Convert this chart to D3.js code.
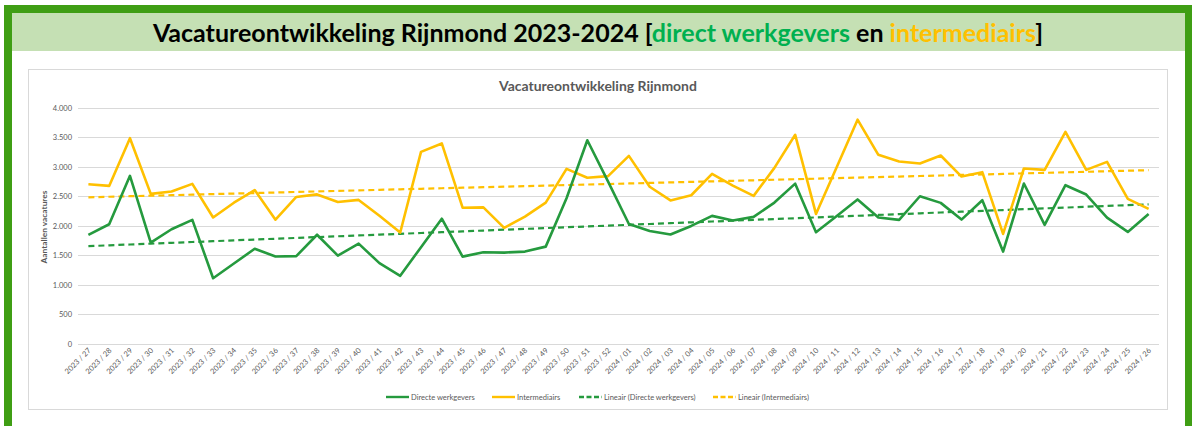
<!DOCTYPE html>
<html>
<head>
<meta charset="utf-8">
<script src="https://cdn.jsdelivr.net/npm/d3@7"></script>
<style>
  body { margin: 0; background: #fff; }
  svg text { font-family: Lato, "Open Sans", sans-serif; }
</style>
</head>
<body>
<div class="AllMap"></div>
<script>
// weken (categorieën)
const weeks = [
  "2023 / 27","2023 / 28","2023 / 29","2023 / 30","2023 / 31","2023 / 32","2023 / 33","2023 / 34",
  "2023 / 35","2023 / 36","2023 / 37","2023 / 38","2023 / 39","2023 / 40","2023 / 41","2023 / 42",
  "2023 / 43","2023 / 44","2023 / 45","2023 / 46","2023 / 47","2023 / 48","2023 / 49","2023 / 50",
  "2023 / 51","2023 / 52","2024 / 01","2024 / 02","2024 / 03","2024 / 04","2024 / 05","2024 / 06",
  "2024 / 07","2024 / 08","2024 / 09","2024 / 10","2024 / 11","2024 / 12","2024 / 13","2024 / 14",
  "2024 / 15","2024 / 16","2024 / 17","2024 / 18","2024 / 19","2024 / 20","2024 / 21","2024 / 22",
  "2024 / 23","2024 / 24","2024 / 25","2024 / 26"
];

// directe werkgevers
const direct = [
  1845, 2025, 2844, 1715, 1941, 2099, 1113, 1362, 1610, 1480, 1486, 1848, 1495, 1698, 1367, 1153,
  1638, 2119, 1478, 1552, 1546, 1563, 1647, 2466, 3446, 2746, 2030, 1910, 1851, 1997, 2167, 2088,
  2150, 2392, 2712, 1890, 2164, 2445, 2140, 2099, 2499, 2387, 2104, 2432, 1563, 2714, 2014, 2686,
  2528, 2138, 1896, 2200
];

// intermediairs
const inter = [
  2703, 2674, 3481, 2539, 2578, 2708, 2140, 2390, 2603, 2102, 2487, 2530, 2403, 2437, 2170, 1885,
  3250, 3392, 2305, 2310, 1963, 2155, 2392, 2962, 2812, 2840, 3182, 2660, 2428, 2516, 2877, 2680,
  2505, 2979, 3538, 2200, 2994, 3794, 3200, 3086, 3052, 3188, 2832, 2906, 1862, 2968, 2945, 3588,
  2945, 3080, 2454, 2285
];

const yTicks = [0, 500, 1000, 1500, 2000, 2500, 3000, 3500, 4000];

const legendItems = [
  { label: "Directe werkgevers", color: "#259a3e", dash: null },
  { label: "Intermediairs", color: "#ffc000", dash: null },
  { label: "Lineair (Directe werkgevers)", color: "#259a3e", dash: "5,2.5" },
  { label: "Lineair (Intermediairs)", color: "#ffc000", dash: "5,2.5" }
];

const width = 1192, height = 426;
const svg = d3.select(".AllMap").append("svg")
  .attr("width", width).attr("height", height);

// lettergrootte aanpassen zodat tekst een bepaalde breedte krijgt
function fitText(sel, size, target) {
  sel.attr("font-size", size);
  const w = sel.node().getComputedTextLength();
  sel.attr("font-size", size * target / w);
  return size * target / w;
}

// groen kader + titelbalk
svg.append("rect").attr("x", 4).attr("y", 5).attr("width", 1188).attr("height", 421).attr("fill", "#3f9e14");
svg.append("rect").attr("x", 12).attr("y", 13).attr("width", 1173).attr("height", 413).attr("fill", "#fff");
svg.append("rect").attr("x", 12).attr("y", 13).attr("width", 1173).attr("height", 38).attr("fill", "#c5e0b4");

const title = svg.append("text")
  .attr("x", 598).attr("y", 42)
  .attr("text-anchor", "middle")
  .attr("font-weight", "bold")
  .attr("fill", "#000");
title.append("tspan").text("Vacatureontwikkeling Rijnmond 2023-2024 [");
title.append("tspan").attr("fill", "#00b050").text("direct werkgevers");
title.append("tspan").text(" en ");
title.append("tspan").attr("fill", "#ffc000").text("intermediairs");
title.append("tspan").text("]");
fitText(title, 23, 891);

// grafiekgebied
svg.append("rect").attr("x", 28.5).attr("y", 69.5).attr("width", 1139).attr("height", 340)
  .attr("fill", "#fff").attr("stroke", "#d9d9d9").attr("stroke-width", 1);

const sub = svg.append("text")
  .attr("x", 598).attr("y", 91)
  .attr("text-anchor", "middle")
  .attr("font-weight", "bold")
  .attr("fill", "#595959")
  .text("Vacatureontwikkeling Rijnmond");
fitText(sub, 14, 198);

// schalen
const x = d3.scaleBand().domain(weeks).range([78, 1159]);
const y = d3.scaleLinear().domain([0, 4000]).range([344, 107.5]);
const cx = d => x(d) + x.bandwidth() / 2;
const fmt = d3.formatLocale({ decimal: ",", thousands: ".", grouping: [3], currency: ["€", ""] }).format(",");

// rasterlijnen
svg.append("g")
  .selectAll("line")
  .data(yTicks)
  .enter()
  .append("line")
  .attr("x1", 78).attr("x2", 1159)
  .attr("y1", d => Math.round(y(d)) + 0.5)
  .attr("y2", d => Math.round(y(d)) + 0.5)
  .attr("stroke", "#d9d9d9")
  .attr("stroke-width", 1);

// y-as labels
svg.append("g")
  .selectAll("text")
  .data(yTicks)
  .enter()
  .append("text")
  .attr("x", 72).attr("y", d => y(d) + 3)
  .attr("text-anchor", "end")
  .attr("font-size", 7.5)
  .attr("fill", "#595959")
  .text(d => fmt(d));

const ytitle = svg.append("text")
  .attr("transform", "translate(47,227) rotate(-90)")
  .attr("text-anchor", "middle")
  .attr("font-weight", "bold")
  .attr("fill", "#595959")
  .text("Aantallen vacatures");
fitText(ytitle, 9, 73);

// x-as labels
svg.append("g")
  .selectAll("text")
  .data(weeks)
  .enter()
  .append("text")
  .attr("transform", d => "translate(" + (cx(d) + 3) + ",351) rotate(-45)")
  .attr("text-anchor", "end")
  .attr("font-size", 7.5)
  .attr("fill", "#595959")
  .text(d => d);

// lineaire trend (kleinste kwadraten)
function trend(vals) {
  const mx = d3.mean(vals, (v, i) => i), my = d3.mean(vals);
  let sxy = 0, sxx = 0;
  vals.forEach((v, i) => { sxy += (i - mx) * (v - my); sxx += (i - mx) * (i - mx); });
  const b = sxy / sxx, a = my - b * mx;
  return vals.map((v, i) => a + b * i);
}

const line = d3.line()
  .x((d, i) => cx(weeks[i]))
  .y(d => y(d));

const series = [
  { vals: trend(direct), color: "#259a3e", dash: "6,4", w: 2.2 },
  { vals: trend(inter), color: "#ffc000", dash: "6,4", w: 2.2 },
  { vals: inter, color: "#ffc000", dash: null, w: 2.6 },
  { vals: direct, color: "#259a3e", dash: null, w: 2.6 }
];

svg.append("g")
  .selectAll("path")
  .data(series)
  .enter()
  .append("path")
  .attr("d", d => line(d.vals))
  .attr("fill", "none")
  .attr("stroke", d => d.color)
  .attr("stroke-width", d => d.w)
  .attr("stroke-linejoin", "round")
  .attr("stroke-dasharray", d => d.dash);

// legenda
const legendX = [386, 492, 579, 713];
const lg = svg.append("g")
  .selectAll("g")
  .data(legendItems)
  .enter()
  .append("g")
  .attr("transform", (d, i) => "translate(" + legendX[i] + ",397)");

lg.append("line")
  .attr("x1", 0).attr("x2", 23)
  .attr("stroke", d => d.color)
  .attr("stroke-width", 2.4)
  .attr("stroke-dasharray", d => d.dash);

const lt = lg.append("text")
  .attr("x", 25).attr("y", 3)
  .attr("fill", "#595959")
  .text(d => d.label);
// zelfde grootte voor alle items, afgeleid van het eerste item (64px breed)
const ls = fitText(d3.select(lt.node()), 8, 64);
lt.attr("font-size", ls);
</script>
</body>
</html>
